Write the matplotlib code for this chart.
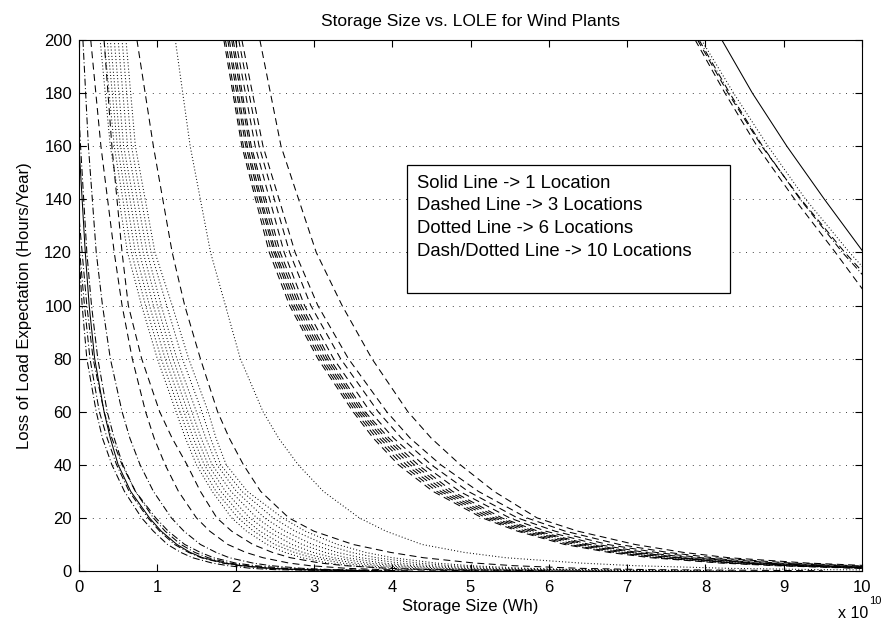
import matplotlib
matplotlib.use("Agg")
import matplotlib.pyplot as plt
from matplotlib.patches import Rectangle

plt.rcParams['font.family'] = ['Liberation Sans', 'DejaVu Sans']
plt.rcParams['lines.scale_dashes'] = False

# LOLE levels (Hours/Year) at which the storage size (x 1e10 Wh) of each curve was read
lole_levels = [200, 160, 120, 100, 80, 60, 50, 40, 30, 20, 15, 10, 7, 5, 3, 2, 1, 0.5, 0.1]

# dashed curves, middle bundle
mid_dashed_x = [
    [1.85, 2.08, 2.43, 2.69, 3.05, 3.50, 3.76, 4.08, 4.52, 5.15, 5.60, 6.20, 6.77, 7.30, 8.19, 8.90, 9.95, 11.0, 13.0],
    [1.87, 2.10, 2.46, 2.72, 3.08, 3.53, 3.80, 4.13, 4.57, 5.20, 5.64, 6.26, 6.84, 7.38, 8.28, 9.00, 10.05, 11.1, 13.1],
    [1.90, 2.13, 2.49, 2.75, 3.11, 3.56, 3.84, 4.18, 4.62, 5.25, 5.70, 6.33, 6.91, 7.46, 8.37, 9.10, 10.15, 11.2, 13.2],
    [1.92, 2.15, 2.51, 2.78, 3.14, 3.59, 3.88, 4.23, 4.67, 5.30, 5.76, 6.40, 6.99, 7.55, 8.47, 9.20, 10.25, 11.3, 13.3],
    [1.95, 2.18, 2.54, 2.81, 3.17, 3.62, 3.92, 4.28, 4.72, 5.35, 5.81, 6.46, 7.06, 7.63, 8.56, 9.30, 10.35, 11.4, 13.4],
    [1.97, 2.20, 2.57, 2.84, 3.20, 3.65, 3.96, 4.33, 4.77, 5.40, 5.86, 6.52, 7.13, 7.70, 8.65, 9.40, 10.45, 11.5, 13.5],
    [2.00, 2.25, 2.62, 2.88, 3.25, 3.72, 4.02, 4.40, 4.86, 5.50, 5.96, 6.62, 7.23, 7.80, 8.75, 9.50, 10.55, 11.6, 13.6],
    [2.04, 2.30, 2.69, 2.96, 3.34, 3.82, 4.12, 4.50, 4.97, 5.60, 6.08, 6.75, 7.37, 7.95, 8.92, 9.70, 10.75, 11.8, 13.8],
    [2.08, 2.35, 2.76, 3.05, 3.44, 3.93, 4.23, 4.62, 5.10, 5.72, 6.21, 6.90, 7.52, 8.10, 9.10, 9.90, 10.95, 12.0, 14.0],
    [2.31, 2.58, 3.03, 3.36, 3.74, 4.20, 4.50, 4.87, 5.30, 5.85, 6.37, 7.10, 7.72, 8.30, 9.30, 10.1, 11.15, 12.2, 14.2],
]

# dashed curves, left side
left_dashed_x = [
    [0.74, 0.95, 1.19, 1.35, 1.55, 1.77, 1.92, 2.10, 2.32, 2.68, 3.00, 3.50, 3.98, 4.40, 5.05, 5.55, 6.40, 7.3, 9.5],
    [0.15, 0.28, 0.45, 0.55, 0.68, 0.85, 0.96, 1.10, 1.27, 1.50, 1.67, 1.90, 2.13, 2.35, 2.68, 2.95, 3.42, 3.9, 5.1],
    [0.32, 0.42, 0.55, 0.63, 0.80, 1.03, 1.19, 1.38, 1.55, 1.76, 1.95, 2.22, 2.47, 2.70, 3.08, 3.40, 3.95, 4.5, 6.0],
]

# dotted curves
dotted_x = [
    [0.27, 0.40, 0.62, 0.80, 1.00, 1.24, 1.36, 1.50, 1.70, 1.95, 2.14, 2.40, 2.63, 2.85, 3.18, 3.45, 3.92, 4.4, 5.6],
    [0.32, 0.45, 0.67, 0.85, 1.05, 1.29, 1.41, 1.55, 1.75, 2.03, 2.23, 2.50, 2.75, 2.98, 3.35, 3.65, 4.18, 4.7, 6.0],
    [0.36, 0.49, 0.72, 0.90, 1.10, 1.34, 1.46, 1.60, 1.81, 2.10, 2.31, 2.60, 2.86, 3.10, 3.52, 3.85, 4.43, 5.0, 6.4],
    [0.40, 0.53, 0.77, 0.95, 1.15, 1.39, 1.51, 1.65, 1.87, 2.18, 2.41, 2.72, 2.99, 3.25, 3.70, 4.05, 4.68, 5.3, 6.8],
    [0.45, 0.57, 0.82, 1.00, 1.20, 1.44, 1.56, 1.70, 1.94, 2.27, 2.51, 2.85, 3.14, 3.42, 3.88, 4.25, 4.93, 5.6, 7.2],
    [0.50, 0.62, 0.87, 1.05, 1.25, 1.50, 1.62, 1.76, 2.01, 2.37, 2.63, 2.98, 3.30, 3.60, 4.10, 4.50, 5.20, 5.9, 7.6],
    [0.55, 0.67, 0.92, 1.12, 1.32, 1.57, 1.68, 1.81, 2.08, 2.48, 2.76, 3.14, 3.48, 3.80, 4.33, 4.75, 5.48, 6.2, 8.0],
    [0.60, 0.72, 0.97, 1.19, 1.40, 1.65, 1.75, 1.88, 2.15, 2.60, 2.89, 3.30, 3.66, 4.00, 4.56, 5.00, 5.75, 6.5, 8.4],
    [1.23, 1.42, 1.68, 1.87, 2.06, 2.35, 2.55, 2.80, 3.12, 3.58, 3.92, 4.38, 4.92, 5.45, 6.40, 7.10, 8.30, 9.5, 12.0],
]

# dash-dotted curves, left side
dashdot_x = [
    [-0.15, -0.08, 0.00, 0.04, 0.10, 0.22, 0.30, 0.42, 0.58, 0.80, 0.95, 1.13, 1.30, 1.45, 1.70, 1.90, 2.20, 2.5, 3.3],
    [-0.05, 0.02, 0.10, 0.16, 0.24, 0.36, 0.45, 0.56, 0.72, 0.95, 1.10, 1.30, 1.48, 1.65, 1.92, 2.15, 2.50, 2.9, 3.8],
    [-0.30, -0.15, 0.01, 0.07, 0.14, 0.26, 0.36, 0.48, 0.64, 0.88, 1.03, 1.22, 1.40, 1.56, 1.83, 2.05, 2.40, 2.8, 3.6],
    [0.05, 0.12, 0.22, 0.30, 0.40, 0.55, 0.65, 0.78, 0.95, 1.18, 1.34, 1.55, 1.75, 1.92, 2.22, 2.45, 2.85, 3.25, 4.2],
    [-0.20, -0.08, 0.04, 0.10, 0.18, 0.32, 0.42, 0.55, 0.72, 0.98, 1.14, 1.35, 1.55, 1.72, 2.00, 2.25, 2.65, 3.05, 4.0],
]

# solid curve, left side
solid_x = [-0.10, 0.00, 0.08, 0.13, 0.20, 0.32, 0.40, 0.50, 0.66, 0.90, 1.05, 1.25, 1.42, 1.58, 1.86, 2.08, 2.45, 2.85, 3.7]

# curves at the top right, read at their own levels
right_levels = [200, 180, 160, 140, 120, 100]
solid_right_x = [8.21, 8.60, 9.04, 9.52, 10.02, 10.58]
dashed_right_x = [
    [7.90, 8.29, 8.72, 9.22, 9.78, 10.40],
    [7.87, 8.25, 8.66, 9.14, 9.66, 10.16],
]
dotted_right_x = [7.95, 8.36, 8.80, 9.28, 9.84, 10.45]
dashdot_right_x = [7.92, 8.31, 8.73, 9.21, 9.75, 10.36]

dash = (5, 3.2)
dot = (0.7, 1.6)
dashdot = (5, 1.8, 0.7, 1.8)
lw = 0.75

fig = plt.figure(figsize=(8.95, 6.34), dpi=100)
ax = fig.add_axes([79 / 895, 1 - 571 / 634, 783 / 895, 531 / 634])

for xs in mid_dashed_x + left_dashed_x:
    ax.plot(xs, lole_levels, color='k', lw=lw, dashes=dash)
for xs in dotted_x:
    ax.plot(xs, lole_levels, color='k', lw=lw, dashes=dot)
for xs in dashdot_x:
    ax.plot(xs, lole_levels, color='k', lw=lw, dashes=dashdot)
ax.plot(solid_x, lole_levels, color='k', lw=lw)

ax.plot(solid_right_x, right_levels, color='k', lw=lw)
for xs in dashed_right_x:
    ax.plot(xs, right_levels, color='k', lw=lw, dashes=dash)
ax.plot(dotted_right_x, right_levels, color='k', lw=lw, dashes=dot)
ax.plot(dashdot_right_x, right_levels, color='k', lw=lw, dashes=dashdot)

ax.set_xlim(0, 10)
ax.set_ylim(0, 200)
ax.set_xticks(range(0, 11))
ax.set_yticks(range(0, 201, 20))
ax.yaxis.grid(True, color='k', lw=0.6, dashes=(0.6, 4.2))
ax.tick_params(direction='in', top=True, right=True, length=5, width=0.8,
               labelsize=12)
ax.tick_params(axis='x', pad=6.5)
ax.tick_params(axis='y', pad=5)
for s in ax.spines.values():
    s.set_linewidth(0.8)

ax.set_title("Storage Size vs. LOLE for Wind Plants", fontsize=12.5, pad=10)
ax.set_xlabel("Storage Size (Wh)", fontsize=12, labelpad=3)
ax.set_ylabel("Loss of Load Expectation (Hours/Year)", fontsize=12, labelpad=9)

fig.text(868 / 895, 1 - 613 / 634, "x 10", fontsize=11.5, ha='right', va='center')
fig.text(869 / 895, 1 - 601 / 634, "10", fontsize=8, ha='left', va='center')

# text box with line style explanations
ax.add_patch(Rectangle((328 / 783, 278 / 531), 323 / 783, 128 / 531,
                       transform=ax.transAxes, fill=True, facecolor='white',
                       edgecolor='k', lw=0.9, zorder=5))
notes = ["Solid Line -> 1 Location", "Dashed Line -> 3 Locations",
         "Dotted Line -> 6 Locations", "Dash/Dotted Line -> 10 Locations"]
for i, t in enumerate(notes):
    ax.text(338 / 783, (571 - 183 - 22.7 * i) / 531, t, transform=ax.transAxes,
            fontsize=13.3, va='center', ha='left', zorder=6)

fig.savefig("out.png", dpi=100)
